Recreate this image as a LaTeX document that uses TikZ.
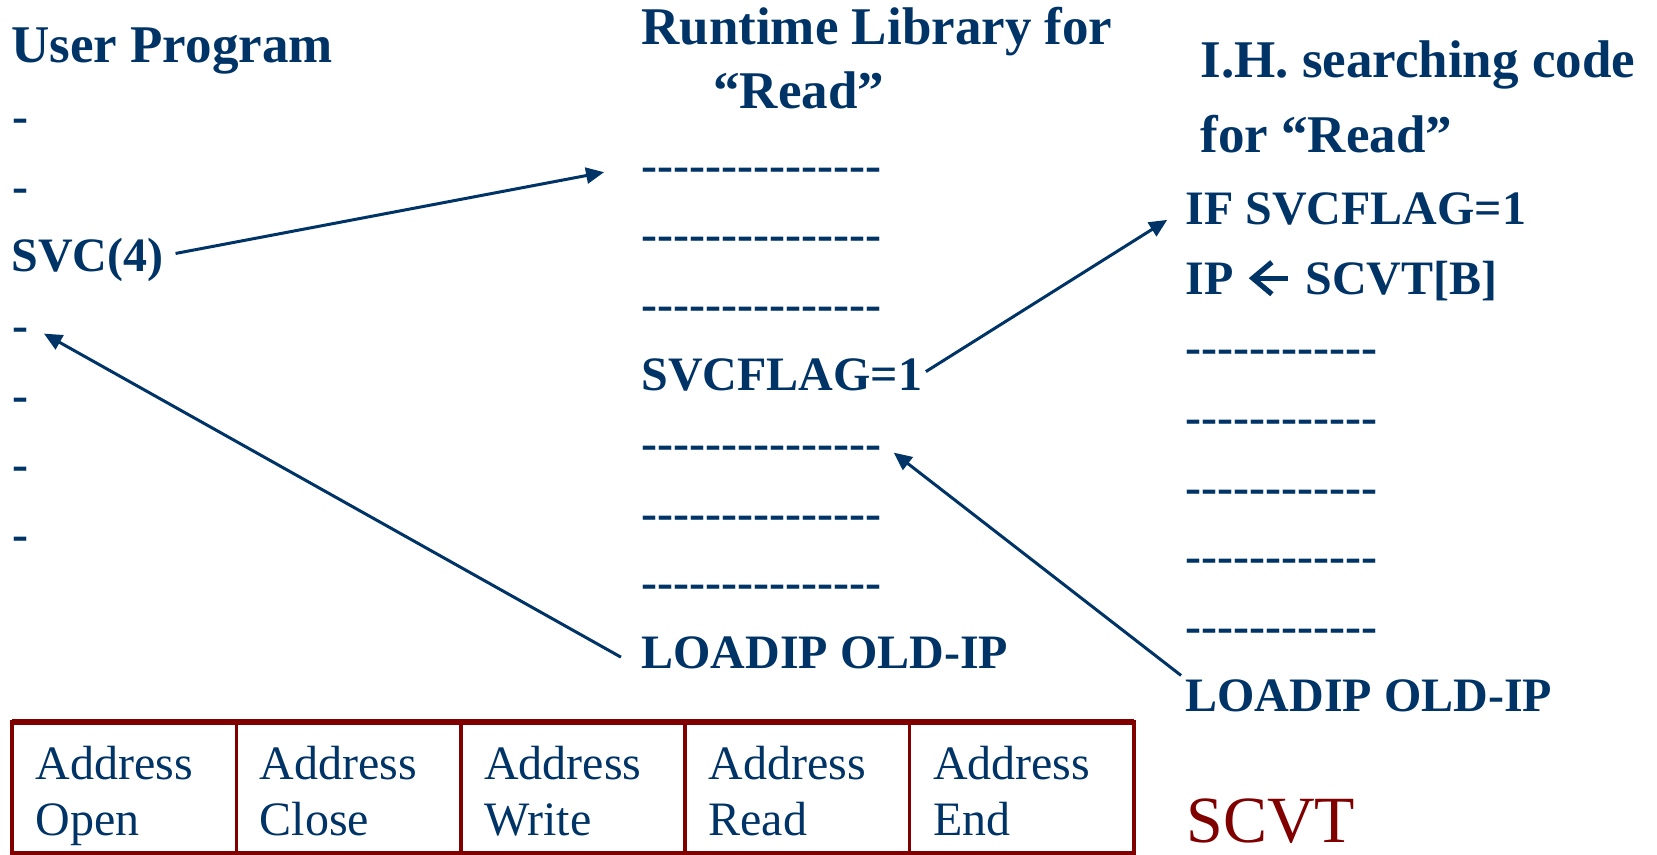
\documentclass[tikz,border=0pt]{standalone}
\usepackage{fontspec}
\setmainfont{Liberation Serif}
\usetikzlibrary{arrows.meta}

\definecolor{slidenavy}{RGB}{0,51,102}
\definecolor{slidered}{RGB}{128,0,0}

% a row of separate hyphens (no en/em dash ligatures)
\newcommand{\dashrow}[1]{\foreach \k in {1,...,#1}{-\kern0pt}}

\begin{document}
\begin{tikzpicture}[
    x=0.5pt, y=-0.5pt,
    head/.style={anchor=base west, inner sep=0pt, text=slidenavy,
        font=\fontsize{26.5}{30}\selectfont\bfseries},
    code/.style={anchor=base west, inner sep=0pt, text=slidenavy,
        text height=16.3pt, text depth=0pt,
        font=\fontsize{24}{28}\selectfont\bfseries},
    addr/.style={anchor=base west, inner sep=0pt, text=slidenavy,
        font=\fontsize{24}{28}\selectfont},
    call/.style={draw=slidenavy, line width=1.5pt,
        -{Triangle[length=9pt,width=8pt]}},
    glyph/.style={draw=slidenavy, line width=2.6pt,
        -{Straight Barb[length=9.5pt,width=16pt]}},
    cell/.style={draw=slidered, line width=1.75pt}
]
\useasboundingbox (0,0) rectangle (1657,855);

% Left column: user program
\node[head] (user) at (11,63) {User Program};
\foreach \r in {1,2,4,5,6,7}
    \node[code] (up\r) at (12,{63+69.6*\r}) {-};
\node[code] (svc) at (11,272) {SVC(4)};

% Middle column: runtime library
\node[head] (rttitle) at (641,45) {Runtime Library for};
\node[head] (rtread) at (713,109) {“Read”};
\foreach \r in {1,2,3,5,6,7}
    \node[code] (rl\r) at (641,{181.5+69.5*(\r-1)}) {\dashrow{15}};
\node[code] (svcflag) at (641,390) {SVCFLAG=1};
\node[code] (rtload) at (641,668) {LOADIP OLD-IP};

% Right column: interrupt handler
\node[head] (ihtitle) at (1200,78) {I.H. searching code};
\node[head] (ihread) at (1200,153) {for “Read”};
\node[code] (ifflag) at (1185,225) {IF SVCFLAG=1};
\node[code] (ip) at (1185,294.5) {IP};
\node[code] (scvtb) at (1305,294.5) {SCVT[B]};
\foreach \r in {3,...,7}
    \node[code] (ih\r) at (1185,{225+69.5*(\r-1)}) {\dashrow{12}};
\node[code] (ihload) at (1185,711.5) {LOADIP OLD-IP};

\draw[glyph, shorten <=8.5pt, shorten >=7.5pt] (scvtb.west) -- (ip.east);

% control transfers
\draw[call, shorten <=6pt, shorten >=18.8pt] (svc.east) -- (rl1.west);
\draw[call, shorten <=11.5pt, shorten >=8.7pt] (rtload.south west) -- (up4.east);
\draw[call, shorten <=2pt, shorten >=10.5pt] (svcflag.east) -- (ifflag.west);
\draw[call, shorten <=2.5pt, shorten >=7.7pt] (ihload.north west) -- (rl5.east);

% SCVT table
\draw[cell] (12,722) rectangle (1134,853);
\foreach \c in {1,...,4}
    \draw[cell] ({12+224.4*\c},722) -- ({12+224.4*\c},853);
\draw[cell, line width=2.8pt] (12,722) -- (1134,722);
\foreach \nm [count=\c from 0] in {Open,Close,Write,Read,End} {
    \node[addr] (addr\c) at ({35+224.4*\c},779) {Address};
    \node[addr] (svcname\c) at ({35+224.4*\c},835) {\nm};
}
\node[anchor=base west, inner sep=0pt, text=slidered,
    font=\fontsize{33}{36}\selectfont] (scvt) at (1186,842) {SCVT};

\end{tikzpicture}
\end{document}
